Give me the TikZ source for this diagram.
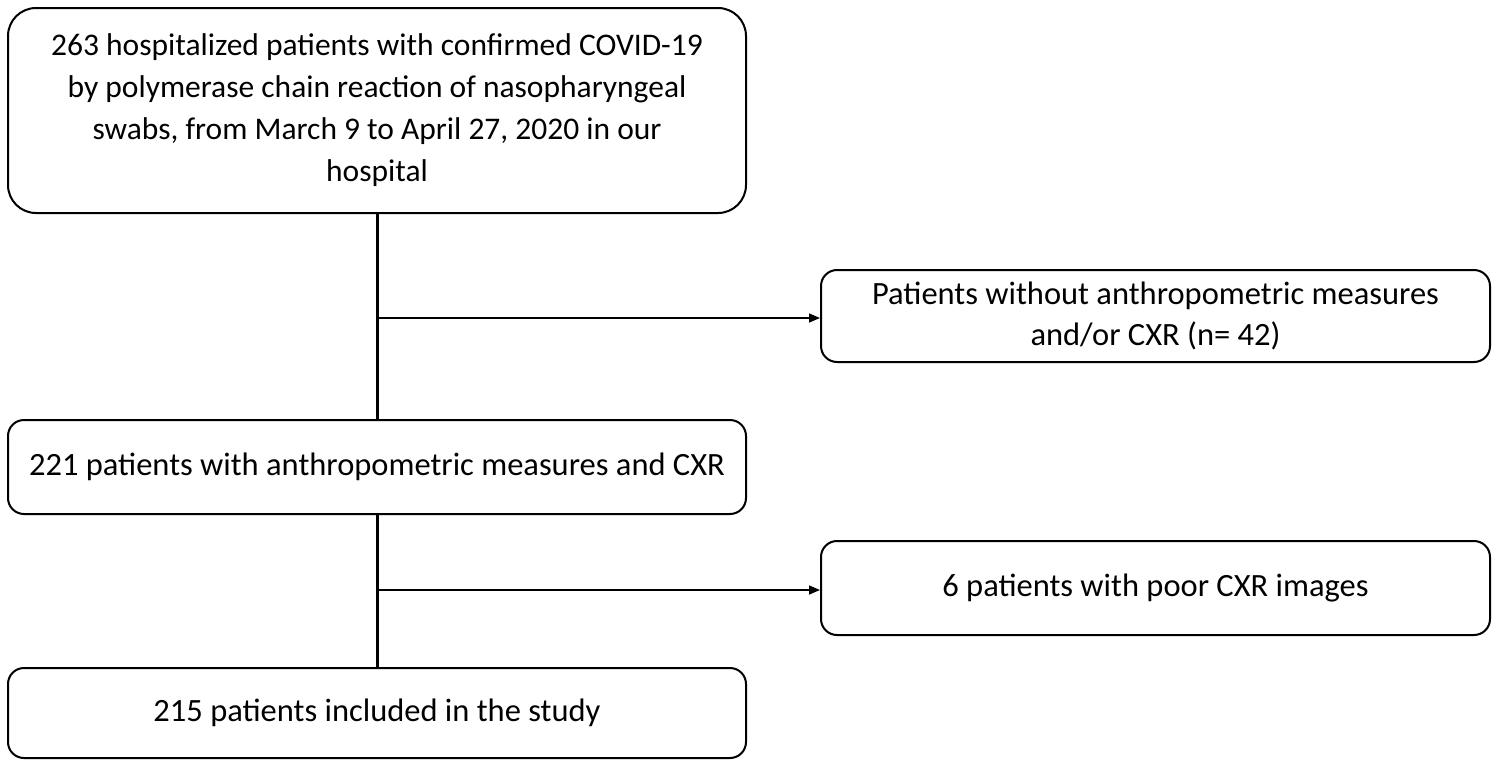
\documentclass[tikz,border=0pt]{standalone}
\usepackage{fontspec}
\setmainfont{Carlito}
\usetikzlibrary{calc}
\usetikzlibrary{arrows.meta}

\begin{document}
\begin{tikzpicture}[x=1pt, y=-1pt,
		flowbox/.style={draw, line width=2pt, rounded corners=16pt, align=center, inner sep=0pt, font=\fontsize{32.5}{41}\selectfont},
		trunk/.style={line width=3pt},
		branch/.style={line width=1.5pt, -{Triangle[length=11pt, width=9pt]}}]
			\useasboundingbox (0, 0) rectangle (1499, 761);

			\node[flowbox, rounded corners=28pt, minimum width=738pt, minimum height=205pt, font=\fontsize{31.5}{42}\selectfont] (cohort) at (377, 110.5) {263 hospitalized patients with confirmed COVID-19\\by polymerase chain reaction of nasopharyngeal\\swabs, from March 9 to April 27, 2020 in our\\hospital};
			\node[flowbox, minimum width=669pt, minimum height=92pt] (nomeas) at (1155.5, 316) {Patients without anthropometric measures\\and/or CXR (n= 42)};
			\node[flowbox, minimum width=738pt, minimum height=94pt] (withmeas) at (377, 467) {221 patients with anthropometric measures and CXR};
			\node[flowbox, minimum width=669pt, minimum height=94pt] (poorcxr) at (1155.5, 588) {6 patients with poor CXR images};
			\node[flowbox, minimum width=738pt, minimum height=90pt] (study) at (377, 713) {215 patients included in the study};

			\draw[trunk] (cohort.south) -- (withmeas.north);
			\draw[trunk] (withmeas.south) -- (study.north);

			\coordinate (split1) at (377, 318);
			\coordinate (split2) at (377, 590);
			\draw[branch] (split1) -- (split1 -| nomeas.west);
			\draw[branch] (split2) -- (split2 -| poorcxr.west);
		\end{tikzpicture}
\end{document}
